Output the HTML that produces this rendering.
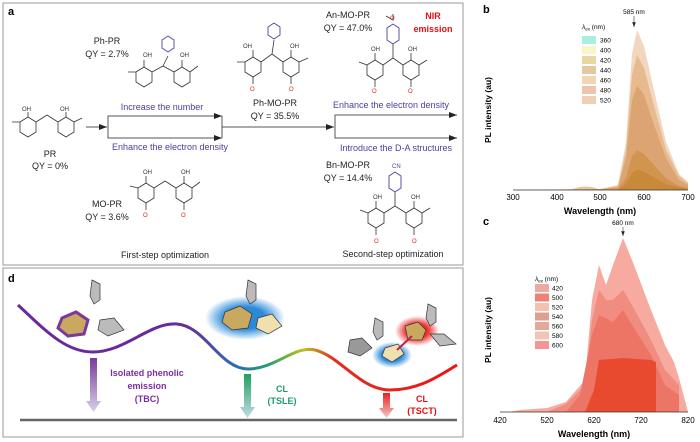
<!DOCTYPE html>
<html><head><meta charset="utf-8"><style>
body{margin:0;background:#fff;}
svg{display:block;font-family:"Liberation Sans",sans-serif;}
</style></head><body>
<svg width="700" height="442" viewBox="0 0 700 442" xmlns="http://www.w3.org/2000/svg">
<defs>
<marker id="ah" markerWidth="8" markerHeight="6" refX="8" refY="3" orient="auto"><path d="M0,0 L8,3 L0,6 z" fill="#222"/></marker>
<linearGradient id="cg" x1="0" x2="1"><stop offset="0" stop-color="#6a2a9a"/><stop offset="0.38" stop-color="#6a2a9a"/><stop offset="0.5" stop-color="#2a70b0"/><stop offset="0.57" stop-color="#20a070"/><stop offset="0.65" stop-color="#c0c020"/><stop offset="0.72" stop-color="#e03020"/><stop offset="1" stop-color="#f01010"/></linearGradient>
<linearGradient id="pa" x1="0" y1="0" x2="0" y2="1"><stop offset="0" stop-color="#7a3a9a"/><stop offset="1" stop-color="#d8d0e8"/></linearGradient>
<linearGradient id="ga" x1="0" y1="0" x2="0" y2="1"><stop offset="0" stop-color="#20a060"/><stop offset="1" stop-color="#c0dce8"/></linearGradient>
<linearGradient id="ra" x1="0" y1="0" x2="0" y2="1"><stop offset="0" stop-color="#f02020"/><stop offset="1" stop-color="#f0c8c8"/></linearGradient>
<radialGradient id="bglow"><stop offset="0.5" stop-color="#2a8ad8"/><stop offset="1" stop-color="#2a8ad8" stop-opacity="0"/></radialGradient>
<radialGradient id="rglow"><stop offset="0.5" stop-color="#f03030"/><stop offset="1" stop-color="#f03030" stop-opacity="0"/></radialGradient>
</defs>

<rect x="3" y="3" width="460" height="262" fill="none" stroke="#999" stroke-width="1"/>
<text x="8" y="15" font-size="11" font-weight="bold">a</text>
<g font-size="9" fill="#222" text-anchor="middle">
<text x="107" y="44">Ph-PR</text><text x="107" y="57">QY = 2.7%</text>
<text x="50" y="157">PR</text><text x="50" y="169">QY = 0%</text>
<text x="275" y="106">Ph-MO-PR</text><text x="275" y="119">QY = 35.5%</text>
<text x="348" y="18">An-MO-PR</text><text x="348" y="31">QY = 47.0%</text>
<text x="348" y="168">Bn-MO-PR</text><text x="348" y="181">QY = 14.4%</text>
<text x="107" y="207">MO-PR</text><text x="107" y="220">QY = 3.6%</text>
<text x="165" y="258">First-step optimization</text>
<text x="393" y="257">Second-step optimization</text>
</g>
<g font-size="9" fill="#4a3f9f" text-anchor="middle">
<text x="162" y="110">Increase the number</text>
<text x="170" y="150">Enhance the electron density</text>
<text x="391" y="108">Enhance the electron density</text>
<text x="396" y="151">Introduce the D-A structures</text>
</g>
<g font-size="9" fill="#e01010" font-weight="bold" text-anchor="middle"><text x="433" y="19">NIR</text><text x="433" y="32">emission</text></g>
<g stroke="#555" stroke-width="1" fill="none">
<line x1="86" y1="127" x2="107" y2="127" marker-end="url(#ah)"/>
<polyline points="221,116 108,116 108,138 221,138"/>
<line x1="200" y1="116" x2="222" y2="116" marker-end="url(#ah)"/>
<line x1="200" y1="138" x2="222" y2="138" marker-end="url(#ah)"/>
<line x1="222" y1="116" x2="222" y2="138"/>
<line x1="222" y1="127" x2="334" y2="127" marker-end="url(#ah)"/>
<polyline points="456,115 335,115 335,138 456,138"/>
<line x1="440" y1="115" x2="457" y2="115" marker-end="url(#ah)"/>
<line x1="440" y1="138" x2="457" y2="138" marker-end="url(#ah)"/>
</g>
<g stroke="#333" stroke-width="0.8" fill="none">
<polygon points="20,122 28,117 36,122 36,132 28,137 20,132"/><polygon points="58,122 66,117 74,122 74,132 66,137 58,132"/>
<path d="M36,122 L47,115 L58,122 M28,117 L28,112 M66,117 L66,112 M12,122 L20,122 M74,122 L82,118"/>
<polygon points="136,72 144,67 152,72 152,82 144,87 136,82"/><polygon points="174,72 182,67 190,72 190,82 182,87 174,82"/>
<path d="M152,72 L163,66 L174,72 M163,66 L168,56 M144,67 L144,60 M182,67 L182,60 M128,72 L136,72 M190,72 L198,66"/>
<polygon points="245,62 253,57 261,62 261,72 253,77 245,72"/><polygon points="283,62 291,57 299,62 299,72 291,77 283,72"/>
<path d="M261,62 L272,54 L283,62 M272,54 L274,40 M253,57 L253,50 M291,57 L291,50 M253,77 L253,84 M291,77 L291,84 M237,62 L245,62 M299,62 L308,58"/>
<polygon points="367,65 375,60 383,65 383,75 375,80 367,75"/><polygon points="403,65 411,60 419,65 419,75 411,80 403,75"/>
<path d="M383,65 L393,58 L403,65 M375,60 L375,53 M411,60 L411,53 M375,80 L375,87 M411,80 L411,87 M359,62 L367,65 M419,65 L427,60 M393,44 L393,58 M393,14 L393,20 L386,16"/>
<polygon points="368,213 376,208 384,213 384,223 376,228 368,223"/><polygon points="406,213 414,208 422,213 422,223 414,228 406,223"/>
<path d="M384,213 L395,206 L406,213 M376,208 L376,201 M414,208 L414,201 M376,228 L376,235 M414,228 L414,235 M360,210 L368,213 M422,213 L430,208 M395,192 L395,206"/>
<polygon points="138,188 146,183 154,188 154,198 146,203 138,198"/><polygon points="176,188 184,183 192,188 192,198 184,203 176,198"/>
<path d="M154,188 L165,181 L176,188 M146,183 L146,176 M184,183 L184,176 M146,203 L146,210 M184,203 L184,210 M130,186 L138,188 M192,188 L200,182"/>
</g>
<g stroke="#4a3f9f" stroke-width="0.9" fill="none">
<polygon points="162,40 168,36 174,40 174,48 168,52 162,48"/>
<polygon points="268,27 274,23 280,27 280,35 274,39 268,35"/>
<polygon points="387,28 393,24 399,28 399,40 393,44 387,40"/>
<polygon points="389,176 395,172 401,176 401,188 395,192 389,188"/>
</g>
<g font-size="6" fill="#333"><text x="22" y="111">OH</text><text x="60" y="111">OH</text><text x="143" y="57">OH</text><text x="180" y="57">OH</text>
<text x="243" y="48">OH</text><text x="290" y="48">OH</text><text x="371" y="51">OH</text><text x="408" y="51">OH</text>
<text x="373" y="199">OH</text><text x="411" y="199">OH</text><text x="143" y="174">OH</text><text x="181" y="174">OH</text></g>
<g font-size="6" fill="#e02020"><text x="250" y="91">O</text><text x="289" y="91">O</text><text x="372" y="93">O</text><text x="408" y="93">O</text><text x="374" y="243">O</text><text x="412" y="243">O</text><text x="143" y="217">O</text><text x="181" y="217">O</text><text x="390" y="20">O</text></g>
<text x="392" y="168" font-size="6" fill="#4a3f9f">CN</text>

<rect x="3" y="268" width="460" height="169" fill="none" stroke="#999" stroke-width="1"/>
<text x="8" y="282" font-size="11" font-weight="bold">d</text>
<ellipse cx="245" cy="318" rx="40" ry="22" fill="url(#bglow)"/>
<ellipse cx="417" cy="331" rx="22" ry="15" fill="url(#rglow)"/>
<ellipse cx="392" cy="355" rx="20" ry="13" fill="url(#bglow)"/>
<g stroke="#333" stroke-width="0.7">
<polygon points="62,318 76,312 88,320 84,334 68,336 58,328" fill="#c9a860" stroke="#7a3a9a" stroke-width="3"/>
<polygon points="100,320 114,318 124,330 108,336 98,330" fill="#bbb"/>
<polygon points="92,280 100,284 100,300 94,304 90,296" fill="#bbb"/>
<polygon points="225,312 240,306 252,314 248,328 232,330 222,322" fill="#c9a860"/>
<polygon points="258,318 272,314 282,326 268,334 256,328" fill="#f0e0b0"/>
<polygon points="248,280 256,284 256,300 250,304 246,296" fill="#bbb"/>
<polygon points="405,326 418,322 426,330 422,340 408,340" fill="#c9a860"/>
<polygon points="385,348 398,344 404,354 392,362 382,356" fill="#f0e0b0"/>
<polygon points="350,340 362,338 372,348 360,356 348,352" fill="#999"/>
<polygon points="430,334 444,334 456,344 440,346" fill="#bbb"/>
<polygon points="428,304 436,308 436,322 430,326 426,318" fill="#bbb"/>
<polygon points="375,318 383,322 383,336 377,340 373,332" fill="#bbb"/>
</g>
<line x1="397" y1="350" x2="412" y2="336" stroke="#c02050" stroke-width="2"/>
<path d="M18,305 C45,330 65,352 93,352 C125,352 150,322 177,324 C205,326 220,369 248,369 C275,369 295,345 315,350 C340,356 360,390 390,390 C420,390 440,375 457,365" fill="none" stroke="url(#cg)" stroke-width="3"/>
<path d="M90,358 h7 v43 h4 l-7.5,11 l-7.5,-11 h4z" fill="url(#pa)"/>
<path d="M244,374 h7 v33 h4 l-7.5,11 l-7.5,-11 h4z" fill="url(#ga)"/>
<path d="M383,393 h7 v15 h4 l-7.5,10 l-7.5,-10 h4z" fill="url(#ra)"/>
<line x1="20" y1="420" x2="457" y2="420" stroke="#666" stroke-width="2.5"/>
<g font-size="9" font-weight="bold" text-anchor="middle">
<text x="147" y="376" fill="#7a2fa0">Isolated phenolic</text><text x="147" y="389" fill="#7a2fa0">emission</text><text x="147" y="402" fill="#7a2fa0">(TBC)</text>
<text x="282" y="392" fill="#1a9e6a">CL</text><text x="282" y="404" fill="#1a9e6a">(TSLE)</text>
<text x="422" y="402" fill="#e01010">CL</text><text x="422" y="414" fill="#e01010">(TSCT)</text>
</g>

<text x="483" y="13" font-size="11" font-weight="bold">b</text>
<text transform="translate(491,110) rotate(-90)" font-size="8.5" font-weight="bold" text-anchor="middle">PL intensity (au)</text>
<path d="M570,190 Q587,183 600,190Z" fill="#e0c8a0"/>
<path d="M513,190 L600,189 L618,185 L626,142 L632,54 L637,30 L644,46 L653,86 L666,142 L679,174 L688,182 L688,190Z" fill="#f2d6bd"/>
<path d="M513,190 L600,189 L618,186 L626,150 L632,75 L637,55 L644,68 L653,102 L666,150 L679,176 L688,183 L688,190Z" fill="#e6bb90"/>
<path d="M513,190 L600,189.5 L618,187 L626,158 L632,101 L637,85 L644,95 L653,122 L666,158 L679,180 L688,185 L688,190Z" fill="#dca472"/>
<path d="M513,190 L618,189 L626,178 L632,156 L637,150 L644,154 L653,164 L666,178 L679,186 L688,188 L688,190Z" fill="#d19550"/>
<path d="M513,190 L618,190 L626,184 L632,173 L637,170 L644,172 L653,177 L666,184 L688,189 L688,190Z" fill="#c8893a"/>
<line x1="513" y1="190" x2="688" y2="190" stroke="#333" stroke-width="0.8"/>
<g font-size="8" text-anchor="middle"><text x="513" y="200">300</text><text x="557" y="200">400</text><text x="600" y="200">500</text><text x="644" y="200">600</text><text x="688" y="200">700</text></g>
<text x="600" y="214" font-size="9" font-weight="bold" text-anchor="middle">Wavelength (nm)</text>
<text x="634" y="14" font-size="6.5" text-anchor="middle">585 nm</text>
<line x1="634" y1="16" x2="634" y2="27" stroke="#333" stroke-width="0.6" marker-end="url(#ah)"/>
<text x="582" y="29" font-size="6.5"><tspan font-style="italic">λ</tspan><tspan font-size="4.5" dy="1.5">ex</tspan><tspan dy="-1.5"> (nm)</tspan></text>
<g font-size="6.5">
<rect x="582" y="36" width="14" height="8" fill="#a8efe0"/><text x="600" y="42.5">360</text>
<rect x="582" y="46" width="14" height="8" fill="#fbf4c8"/><text x="600" y="52.5">400</text>
<rect x="582" y="56" width="14" height="8" fill="#e8d8a0"/><text x="600" y="62.5">420</text>
<rect x="582" y="66" width="14" height="8" fill="#e4c8a2"/><text x="600" y="72.5">440</text>
<rect x="582" y="76" width="14" height="8" fill="#f2d6b4"/><text x="600" y="82.5">460</text>
<rect x="582" y="86" width="14" height="8" fill="#eec4ac"/><text x="600" y="92.5">480</text>
<rect x="582" y="96" width="14" height="8" fill="#f0d0b4"/><text x="600" y="102.5">520</text>
</g>

<text x="483" y="225" font-size="11" font-weight="bold">c</text>
<text transform="translate(491,330) rotate(-90)" font-size="8.5" font-weight="bold" text-anchor="middle">PL intensity (au)</text>
<path d="M509,412 L520,410 L547,408 L566,402 L585,380 L592,300 L599,265 L606,285 L613,265 L623,238 L632,260 L651,310 L665,345 L674,362 L679,378 L688,412Z" fill="#f6aaa0"/>
<path d="M547,412 L566,404 L585,385 L592,320 L599,290 L606,300 L613,300 L623,290 L632,305 L651,340 L665,370 L679,385 L679,412Z" fill="#f08c80"/>
<path d="M566,412 L580,395 L592,335 L599,315 L613,322 L623,310 L632,325 L651,355 L665,385 L679,395 L679,412Z" fill="#ec7565"/>
<path d="M585,412 L594,390 L599,360 L623,358 L651,360 L656,362 L656,412Z" fill="#e84a30"/>
<line x1="500" y1="412" x2="688" y2="412" stroke="#333" stroke-width="0.8"/>
<g font-size="8" text-anchor="middle"><text x="500" y="423">420</text><text x="547" y="423">520</text><text x="594" y="423">620</text><text x="641" y="423">720</text><text x="688" y="423">820</text></g>
<text x="594" y="437" font-size="9" font-weight="bold" text-anchor="middle">Wavelength (nm)</text>
<text x="623" y="225" font-size="6.5" text-anchor="middle">680 nm</text>
<line x1="623" y1="227" x2="623" y2="236" stroke="#333" stroke-width="0.6" marker-end="url(#ah)"/>
<text x="535" y="281" font-size="6.5"><tspan font-style="italic">λ</tspan><tspan font-size="4.5" dy="1.5">ex</tspan><tspan dy="-1.5"> (nm)</tspan></text>
<g font-size="6.5">
<rect x="535" y="284" width="14" height="8" fill="#eeaaa0"/><text x="552" y="290.5">420</text>
<rect x="535" y="293.5" width="14" height="8" fill="#f08070"/><text x="552" y="300">500</text>
<rect x="535" y="303" width="14" height="8" fill="#f4c0b0"/><text x="552" y="309.5">520</text>
<rect x="535" y="312.5" width="14" height="8" fill="#dca090"/><text x="552" y="319">540</text>
<rect x="535" y="322" width="14" height="8" fill="#e4a898"/><text x="552" y="328.5">560</text>
<rect x="535" y="331.5" width="14" height="8" fill="#f2c4b8"/><text x="552" y="338">580</text>
<rect x="535" y="341" width="14" height="8" fill="#f49494"/><text x="552" y="347.5">600</text>
</g>
</svg>
</body></html>
